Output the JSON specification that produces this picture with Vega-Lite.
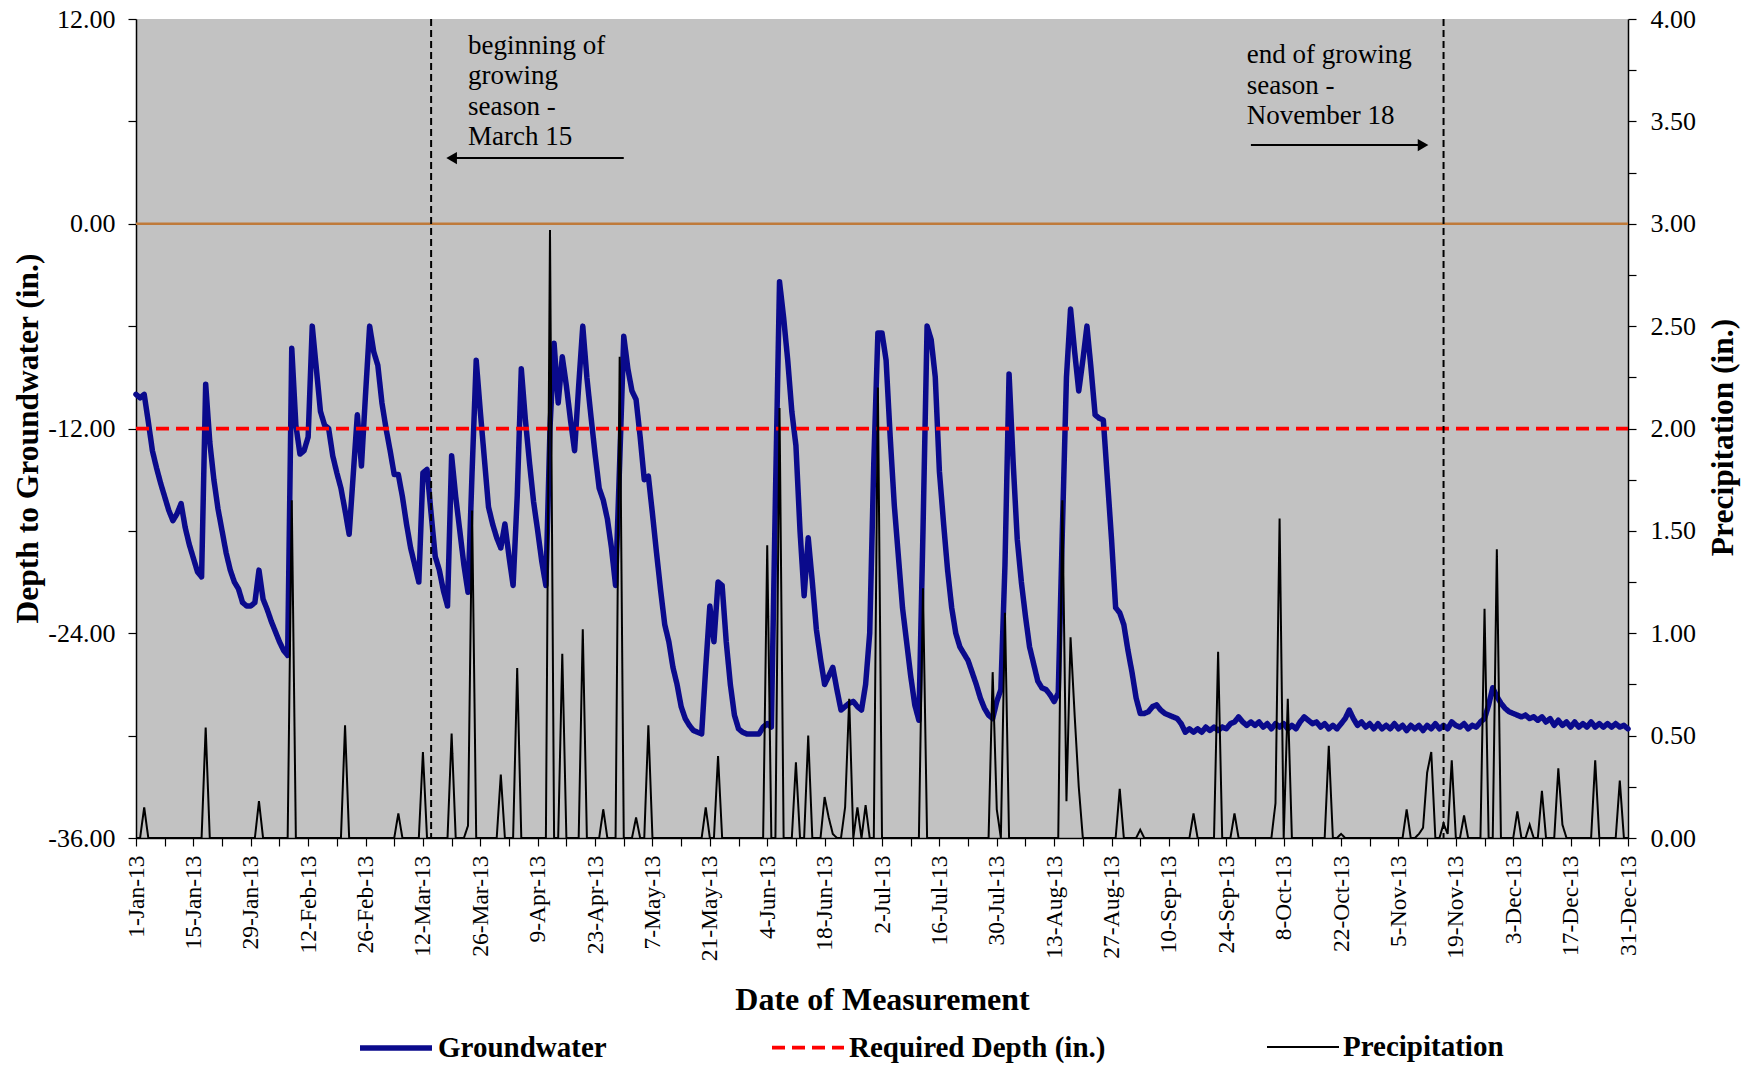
{
  "$schema": "https://vega.github.io/schema/vega-lite/v6.json",
  "width": 1492,
  "height": 819,
  "autosize": {"type": "none"},
  "padding": {"left": 136, "top": 19, "right": 118, "bottom": 227},
  "background": "white",
  "config": {
    "view": {"fill": "#C2C2C2", "stroke": null},
    "font": "Liberation Serif",
    "axis": {"labelFont": "Liberation Serif", "titleFont": "Liberation Serif", "labelColor": "black", "titleColor": "black", "domainColor": "black", "tickColor": "black", "grid": false, "domainWidth": 1.5, "tickWidth": 1.2},
    "legend": {"symbolType": "stroke", "symbolSize": 5184, "labelFont": "Liberation Serif", "labelFontSize": 29, "labelFontWeight": "bold", "labelColor": "black", "labelOffset": 3, "columnPadding": 157, "labelLimit": 600, "padding": 0}
  },
  "datasets": {
    "gw": [
      {"date":"2013-01-01","value":-10.0},{"date":"2013-01-02","value":-10.2},{"date":"2013-01-03","value":-10.0},{"date":"2013-01-04","value":-11.6},{"date":"2013-01-05","value":-13.3},{"date":"2013-01-06","value":-14.3},{"date":"2013-01-07","value":-15.2},{"date":"2013-01-08","value":-16.0},{"date":"2013-01-09","value":-16.8},{"date":"2013-01-10","value":-17.4},{"date":"2013-01-11","value":-17.0},{"date":"2013-01-12","value":-16.4},{"date":"2013-01-13","value":-17.8},{"date":"2013-01-14","value":-18.8},{"date":"2013-01-15","value":-19.6},{"date":"2013-01-16","value":-20.4},{"date":"2013-01-17","value":-20.7},{"date":"2013-01-18","value":-9.4},{"date":"2013-01-19","value":-12.8},{"date":"2013-01-20","value":-15.0},{"date":"2013-01-21","value":-16.7},{"date":"2013-01-22","value":-18.0},{"date":"2013-01-23","value":-19.3},{"date":"2013-01-24","value":-20.3},{"date":"2013-01-25","value":-21.0},{"date":"2013-01-26","value":-21.4},{"date":"2013-01-27","value":-22.2},{"date":"2013-01-28","value":-22.4},{"date":"2013-01-29","value":-22.4},{"date":"2013-01-30","value":-22.2},{"date":"2013-01-31","value":-20.3},
      {"date":"2013-02-01","value":-22.0},{"date":"2013-02-02","value":-22.6},{"date":"2013-02-03","value":-23.3},{"date":"2013-02-04","value":-23.9},{"date":"2013-02-05","value":-24.5},{"date":"2013-02-06","value":-25.0},{"date":"2013-02-07","value":-25.3},{"date":"2013-02-08","value":-7.3},{"date":"2013-02-09","value":-11.8},{"date":"2013-02-10","value":-13.5},{"date":"2013-02-11","value":-13.3},{"date":"2013-02-12","value":-12.5},{"date":"2013-02-13","value":-6.0},{"date":"2013-02-14","value":-8.5},{"date":"2013-02-15","value":-11.0},{"date":"2013-02-16","value":-11.8},{"date":"2013-02-17","value":-12.0},{"date":"2013-02-18","value":-13.6},{"date":"2013-02-19","value":-14.6},{"date":"2013-02-20","value":-15.5},{"date":"2013-02-21","value":-16.8},{"date":"2013-02-22","value":-18.2},{"date":"2013-02-23","value":-14.7},{"date":"2013-02-24","value":-11.2},{"date":"2013-02-25","value":-14.2},{"date":"2013-02-26","value":-10.0},{"date":"2013-02-27","value":-6.0},{"date":"2013-02-28","value":-7.5},
      {"date":"2013-03-01","value":-8.3},{"date":"2013-03-02","value":-10.5},{"date":"2013-03-03","value":-12.0},{"date":"2013-03-04","value":-13.3},{"date":"2013-03-05","value":-14.7},{"date":"2013-03-06","value":-14.7},{"date":"2013-03-07","value":-16.0},{"date":"2013-03-08","value":-17.6},{"date":"2013-03-09","value":-19.0},{"date":"2013-03-10","value":-20.0},{"date":"2013-03-11","value":-21.0},{"date":"2013-03-12","value":-14.6},{"date":"2013-03-13","value":-14.4},{"date":"2013-03-14","value":-17.0},{"date":"2013-03-15","value":-19.5},{"date":"2013-03-16","value":-20.3},{"date":"2013-03-17","value":-21.5},{"date":"2013-03-18","value":-22.4},{"date":"2013-03-19","value":-13.6},{"date":"2013-03-20","value":-16.0},{"date":"2013-03-21","value":-18.0},{"date":"2013-03-22","value":-20.0},{"date":"2013-03-23","value":-21.6},{"date":"2013-03-24","value":-14.5},{"date":"2013-03-25","value":-8.0},{"date":"2013-03-26","value":-11.0},{"date":"2013-03-27","value":-13.8},{"date":"2013-03-28","value":-16.6},{"date":"2013-03-29","value":-17.6},{"date":"2013-03-30","value":-18.4},{"date":"2013-03-31","value":-19.0},
      {"date":"2013-04-01","value":-17.6},{"date":"2013-04-02","value":-19.5},{"date":"2013-04-03","value":-21.2},{"date":"2013-04-04","value":-16.0},{"date":"2013-04-05","value":-8.5},{"date":"2013-04-06","value":-11.5},{"date":"2013-04-07","value":-14.0},{"date":"2013-04-08","value":-16.3},{"date":"2013-04-09","value":-18.0},{"date":"2013-04-10","value":-19.8},{"date":"2013-04-11","value":-21.2},{"date":"2013-04-12","value":-12.0},{"date":"2013-04-13","value":-7.0},{"date":"2013-04-14","value":-10.5},{"date":"2013-04-15","value":-7.8},{"date":"2013-04-16","value":-9.5},{"date":"2013-04-17","value":-11.5},{"date":"2013-04-18","value":-13.3},{"date":"2013-04-19","value":-9.5},{"date":"2013-04-20","value":-6.0},{"date":"2013-04-21","value":-9.0},{"date":"2013-04-22","value":-11.3},{"date":"2013-04-23","value":-13.5},{"date":"2013-04-24","value":-15.5},{"date":"2013-04-25","value":-16.2},{"date":"2013-04-26","value":-17.3},{"date":"2013-04-27","value":-19.0},{"date":"2013-04-28","value":-21.2},{"date":"2013-04-29","value":-14.0},{"date":"2013-04-30","value":-6.6},
      {"date":"2013-05-01","value":-8.5},{"date":"2013-05-02","value":-9.8},{"date":"2013-05-03","value":-10.3},{"date":"2013-05-04","value":-12.5},{"date":"2013-05-05","value":-15.0},{"date":"2013-05-06","value":-14.8},{"date":"2013-05-07","value":-17.0},{"date":"2013-05-08","value":-19.3},{"date":"2013-05-09","value":-21.5},{"date":"2013-05-10","value":-23.5},{"date":"2013-05-11","value":-24.5},{"date":"2013-05-12","value":-26.0},{"date":"2013-05-13","value":-27.0},{"date":"2013-05-14","value":-28.3},{"date":"2013-05-15","value":-29.0},{"date":"2013-05-16","value":-29.4},{"date":"2013-05-17","value":-29.7},{"date":"2013-05-18","value":-29.8},{"date":"2013-05-19","value":-29.9},{"date":"2013-05-20","value":-26.0},{"date":"2013-05-21","value":-22.4},{"date":"2013-05-22","value":-24.5},{"date":"2013-05-23","value":-21.0},{"date":"2013-05-24","value":-21.2},{"date":"2013-05-25","value":-24.5},{"date":"2013-05-26","value":-27.0},{"date":"2013-05-27","value":-28.8},{"date":"2013-05-28","value":-29.6},{"date":"2013-05-29","value":-29.8},{"date":"2013-05-30","value":-29.9},{"date":"2013-05-31","value":-29.9},
      {"date":"2013-06-01","value":-29.9},{"date":"2013-06-02","value":-29.9},{"date":"2013-06-03","value":-29.5},{"date":"2013-06-04","value":-29.3},{"date":"2013-06-05","value":-29.5},{"date":"2013-06-06","value":-16.0},{"date":"2013-06-07","value":-3.4},{"date":"2013-06-08","value":-5.5},{"date":"2013-06-09","value":-8.0},{"date":"2013-06-10","value":-11.0},{"date":"2013-06-11","value":-13.0},{"date":"2013-06-12","value":-18.0},{"date":"2013-06-13","value":-21.8},{"date":"2013-06-14","value":-18.4},{"date":"2013-06-15","value":-21.0},{"date":"2013-06-16","value":-23.8},{"date":"2013-06-17","value":-25.5},{"date":"2013-06-18","value":-27.0},{"date":"2013-06-19","value":-26.5},{"date":"2013-06-20","value":-26.0},{"date":"2013-06-21","value":-27.3},{"date":"2013-06-22","value":-28.5},{"date":"2013-06-23","value":-28.3},{"date":"2013-06-24","value":-28.1},{"date":"2013-06-25","value":-28.0},{"date":"2013-06-26","value":-28.3},{"date":"2013-06-27","value":-28.5},{"date":"2013-06-28","value":-27.0},{"date":"2013-06-29","value":-24.0},{"date":"2013-06-30","value":-14.0},
      {"date":"2013-07-01","value":-6.4},{"date":"2013-07-02","value":-6.4},{"date":"2013-07-03","value":-8.0},{"date":"2013-07-04","value":-12.5},{"date":"2013-07-05","value":-16.5},{"date":"2013-07-06","value":-19.5},{"date":"2013-07-07","value":-22.5},{"date":"2013-07-08","value":-24.5},{"date":"2013-07-09","value":-26.5},{"date":"2013-07-10","value":-28.2},{"date":"2013-07-11","value":-29.1},{"date":"2013-07-12","value":-18.0},{"date":"2013-07-13","value":-6.0},{"date":"2013-07-14","value":-6.8},{"date":"2013-07-15","value":-9.0},{"date":"2013-07-16","value":-14.5},{"date":"2013-07-17","value":-17.5},{"date":"2013-07-18","value":-20.3},{"date":"2013-07-19","value":-22.5},{"date":"2013-07-20","value":-24.0},{"date":"2013-07-21","value":-24.8},{"date":"2013-07-22","value":-25.2},{"date":"2013-07-23","value":-25.6},{"date":"2013-07-24","value":-26.3},{"date":"2013-07-25","value":-27.0},{"date":"2013-07-26","value":-27.8},{"date":"2013-07-27","value":-28.4},{"date":"2013-07-28","value":-28.8},{"date":"2013-07-29","value":-29.0},{"date":"2013-07-30","value":-28.0},{"date":"2013-07-31","value":-27.3},
      {"date":"2013-08-01","value":-20.0},{"date":"2013-08-02","value":-8.8},{"date":"2013-08-03","value":-14.0},{"date":"2013-08-04","value":-18.5},{"date":"2013-08-05","value":-21.0},{"date":"2013-08-06","value":-23.0},{"date":"2013-08-07","value":-24.8},{"date":"2013-08-08","value":-25.8},{"date":"2013-08-09","value":-26.8},{"date":"2013-08-10","value":-27.2},{"date":"2013-08-11","value":-27.3},{"date":"2013-08-12","value":-27.6},{"date":"2013-08-13","value":-28.0},{"date":"2013-08-14","value":-27.5},{"date":"2013-08-15","value":-18.0},{"date":"2013-08-16","value":-9.0},{"date":"2013-08-17","value":-5.0},{"date":"2013-08-18","value":-7.5},{"date":"2013-08-19","value":-9.8},{"date":"2013-08-20","value":-8.0},{"date":"2013-08-21","value":-6.0},{"date":"2013-08-22","value":-8.5},{"date":"2013-08-23","value":-11.2},{"date":"2013-08-24","value":-11.4},{"date":"2013-08-25","value":-11.5},{"date":"2013-08-26","value":-15.0},{"date":"2013-08-27","value":-18.5},{"date":"2013-08-28","value":-22.5},{"date":"2013-08-29","value":-22.8},{"date":"2013-08-30","value":-23.5},{"date":"2013-08-31","value":-25.0},
      {"date":"2013-09-01","value":-26.3},{"date":"2013-09-02","value":-27.8},{"date":"2013-09-03","value":-28.7},{"date":"2013-09-04","value":-28.7},{"date":"2013-09-05","value":-28.6},{"date":"2013-09-06","value":-28.3},{"date":"2013-09-07","value":-28.2},{"date":"2013-09-08","value":-28.5},{"date":"2013-09-09","value":-28.7},{"date":"2013-09-10","value":-28.8},{"date":"2013-09-11","value":-28.9},{"date":"2013-09-12","value":-29.0},{"date":"2013-09-13","value":-29.3},{"date":"2013-09-14","value":-29.8},{"date":"2013-09-15","value":-29.6},{"date":"2013-09-16","value":-29.8},{"date":"2013-09-17","value":-29.6},{"date":"2013-09-18","value":-29.8},{"date":"2013-09-19","value":-29.5},{"date":"2013-09-20","value":-29.7},{"date":"2013-09-21","value":-29.5},{"date":"2013-09-22","value":-29.7},{"date":"2013-09-23","value":-29.5},{"date":"2013-09-24","value":-29.6},{"date":"2013-09-25","value":-29.3},{"date":"2013-09-26","value":-29.2},{"date":"2013-09-27","value":-28.9},{"date":"2013-09-28","value":-29.2},{"date":"2013-09-29","value":-29.4},{"date":"2013-09-30","value":-29.2},
      {"date":"2013-10-01","value":-29.4},{"date":"2013-10-02","value":-29.2},{"date":"2013-10-03","value":-29.5},{"date":"2013-10-04","value":-29.3},{"date":"2013-10-05","value":-29.6},{"date":"2013-10-06","value":-29.3},{"date":"2013-10-07","value":-29.5},{"date":"2013-10-08","value":-29.3},{"date":"2013-10-09","value":-29.6},{"date":"2013-10-10","value":-29.4},{"date":"2013-10-11","value":-29.6},{"date":"2013-10-12","value":-29.2},{"date":"2013-10-13","value":-28.9},{"date":"2013-10-14","value":-29.1},{"date":"2013-10-15","value":-29.3},{"date":"2013-10-16","value":-29.2},{"date":"2013-10-17","value":-29.5},{"date":"2013-10-18","value":-29.3},{"date":"2013-10-19","value":-29.6},{"date":"2013-10-20","value":-29.4},{"date":"2013-10-21","value":-29.6},{"date":"2013-10-22","value":-29.3},{"date":"2013-10-23","value":-29.0},{"date":"2013-10-24","value":-28.5},{"date":"2013-10-25","value":-29.0},{"date":"2013-10-26","value":-29.4},{"date":"2013-10-27","value":-29.2},{"date":"2013-10-28","value":-29.5},{"date":"2013-10-29","value":-29.3},{"date":"2013-10-30","value":-29.6},{"date":"2013-10-31","value":-29.3},
      {"date":"2013-11-01","value":-29.6},{"date":"2013-11-02","value":-29.4},{"date":"2013-11-03","value":-29.6},{"date":"2013-11-04","value":-29.3},{"date":"2013-11-05","value":-29.6},{"date":"2013-11-06","value":-29.4},{"date":"2013-11-07","value":-29.7},{"date":"2013-11-08","value":-29.4},{"date":"2013-11-09","value":-29.6},{"date":"2013-11-10","value":-29.4},{"date":"2013-11-11","value":-29.7},{"date":"2013-11-12","value":-29.4},{"date":"2013-11-13","value":-29.6},{"date":"2013-11-14","value":-29.3},{"date":"2013-11-15","value":-29.6},{"date":"2013-11-16","value":-29.4},{"date":"2013-11-17","value":-29.6},{"date":"2013-11-18","value":-29.2},{"date":"2013-11-19","value":-29.4},{"date":"2013-11-20","value":-29.5},{"date":"2013-11-21","value":-29.3},{"date":"2013-11-22","value":-29.6},{"date":"2013-11-23","value":-29.4},{"date":"2013-11-24","value":-29.5},{"date":"2013-11-25","value":-29.2},{"date":"2013-11-26","value":-29.0},{"date":"2013-11-27","value":-28.2},{"date":"2013-11-28","value":-27.2},{"date":"2013-11-29","value":-27.7},{"date":"2013-11-30","value":-28.1},
      {"date":"2013-12-01","value":-28.4},{"date":"2013-12-02","value":-28.6},{"date":"2013-12-03","value":-28.7},{"date":"2013-12-04","value":-28.8},{"date":"2013-12-05","value":-28.9},{"date":"2013-12-06","value":-28.8},{"date":"2013-12-07","value":-29.0},{"date":"2013-12-08","value":-28.9},{"date":"2013-12-09","value":-29.1},{"date":"2013-12-10","value":-28.9},{"date":"2013-12-11","value":-29.2},{"date":"2013-12-12","value":-29.0},{"date":"2013-12-13","value":-29.4},{"date":"2013-12-14","value":-29.1},{"date":"2013-12-15","value":-29.4},{"date":"2013-12-16","value":-29.2},{"date":"2013-12-17","value":-29.5},{"date":"2013-12-18","value":-29.2},{"date":"2013-12-19","value":-29.5},{"date":"2013-12-20","value":-29.3},{"date":"2013-12-21","value":-29.5},{"date":"2013-12-22","value":-29.2},{"date":"2013-12-23","value":-29.5},{"date":"2013-12-24","value":-29.3},{"date":"2013-12-25","value":-29.5},{"date":"2013-12-26","value":-29.3},{"date":"2013-12-27","value":-29.5},{"date":"2013-12-28","value":-29.3},{"date":"2013-12-29","value":-29.5},{"date":"2013-12-30","value":-29.4},{"date":"2013-12-31","value":-29.6}
    ],
    "precip": [
      {"date":"2013-01-01","value":0},{"date":"2013-01-02","value":0},{"date":"2013-01-03","value":0.15},{"date":"2013-01-04","value":0},
      {"date":"2013-01-17","value":0},{"date":"2013-01-18","value":0.54},{"date":"2013-01-19","value":0},
      {"date":"2013-01-30","value":0},{"date":"2013-01-31","value":0.18},{"date":"2013-02-01","value":0},
      {"date":"2013-02-07","value":0},{"date":"2013-02-08","value":1.65},{"date":"2013-02-09","value":0},
      {"date":"2013-02-20","value":0},{"date":"2013-02-21","value":0.55},{"date":"2013-02-22","value":0},
      {"date":"2013-03-05","value":0},{"date":"2013-03-06","value":0.12},{"date":"2013-03-07","value":0},
      {"date":"2013-03-11","value":0},{"date":"2013-03-12","value":0.42},{"date":"2013-03-13","value":0},
      {"date":"2013-03-18","value":0},{"date":"2013-03-19","value":0.51},{"date":"2013-03-20","value":0},
      {"date":"2013-03-22","value":0},{"date":"2013-03-23","value":0.06},{"date":"2013-03-24","value":1.6},{"date":"2013-03-25","value":0},
      {"date":"2013-03-30","value":0},{"date":"2013-03-31","value":0.31},{"date":"2013-04-01","value":0},
      {"date":"2013-04-03","value":0},{"date":"2013-04-04","value":0.83},{"date":"2013-04-05","value":0},
      {"date":"2013-04-11","value":0},{"date":"2013-04-12","value":2.97},{"date":"2013-04-13","value":0},{"date":"2013-04-14","value":0},{"date":"2013-04-15","value":0.9},{"date":"2013-04-16","value":0},
      {"date":"2013-04-19","value":0},{"date":"2013-04-20","value":1.02},{"date":"2013-04-21","value":0},
      {"date":"2013-04-24","value":0},{"date":"2013-04-25","value":0.14},{"date":"2013-04-26","value":0},
      {"date":"2013-04-28","value":0},{"date":"2013-04-29","value":2.35},{"date":"2013-04-30","value":0},
      {"date":"2013-05-02","value":0},{"date":"2013-05-03","value":0.1},{"date":"2013-05-04","value":0},{"date":"2013-05-05","value":0},{"date":"2013-05-06","value":0.55},{"date":"2013-05-07","value":0},
      {"date":"2013-05-19","value":0},{"date":"2013-05-20","value":0.15},{"date":"2013-05-21","value":0},{"date":"2013-05-22","value":0},{"date":"2013-05-23","value":0.4},{"date":"2013-05-24","value":0},
      {"date":"2013-06-03","value":0},{"date":"2013-06-04","value":1.43},{"date":"2013-06-05","value":0},{"date":"2013-06-06","value":0},{"date":"2013-06-07","value":2.1},{"date":"2013-06-08","value":0},
      {"date":"2013-06-10","value":0},{"date":"2013-06-11","value":0.37},{"date":"2013-06-12","value":0},{"date":"2013-06-13","value":0},{"date":"2013-06-14","value":0.5},{"date":"2013-06-15","value":0},
      {"date":"2013-06-17","value":0},{"date":"2013-06-18","value":0.2},{"date":"2013-06-19","value":0.1},{"date":"2013-06-20","value":0.02},{"date":"2013-06-21","value":0},{"date":"2013-06-22","value":0},{"date":"2013-06-23","value":0.15},{"date":"2013-06-24","value":0.68},{"date":"2013-06-25","value":0},{"date":"2013-06-26","value":0.15},{"date":"2013-06-27","value":0},{"date":"2013-06-28","value":0.16},{"date":"2013-06-29","value":0},{"date":"2013-06-30","value":0},
      {"date":"2013-07-01","value":2.2},{"date":"2013-07-02","value":0},
      {"date":"2013-07-11","value":0},{"date":"2013-07-12","value":1.22},{"date":"2013-07-13","value":0},
      {"date":"2013-07-28","value":0},{"date":"2013-07-29","value":0.81},{"date":"2013-07-30","value":0.14},{"date":"2013-07-31","value":0},{"date":"2013-08-01","value":1.1},{"date":"2013-08-02","value":0},
      {"date":"2013-08-14","value":0},{"date":"2013-08-15","value":1.65},{"date":"2013-08-16","value":0.18},{"date":"2013-08-17","value":0.98},{"date":"2013-08-18","value":0.6},{"date":"2013-08-19","value":0.25},{"date":"2013-08-20","value":0},
      {"date":"2013-08-28","value":0},{"date":"2013-08-29","value":0.24},{"date":"2013-08-30","value":0},
      {"date":"2013-09-02","value":0},{"date":"2013-09-03","value":0.04},{"date":"2013-09-04","value":0},
      {"date":"2013-09-15","value":0},{"date":"2013-09-16","value":0.12},{"date":"2013-09-17","value":0},
      {"date":"2013-09-21","value":0},{"date":"2013-09-22","value":0.91},{"date":"2013-09-23","value":0},
      {"date":"2013-09-25","value":0},{"date":"2013-09-26","value":0.12},{"date":"2013-09-27","value":0},
      {"date":"2013-10-05","value":0},{"date":"2013-10-06","value":0.17},{"date":"2013-10-07","value":1.56},{"date":"2013-10-08","value":0},{"date":"2013-10-09","value":0.68},{"date":"2013-10-10","value":0},
      {"date":"2013-10-18","value":0},{"date":"2013-10-19","value":0.45},{"date":"2013-10-20","value":0},{"date":"2013-10-21","value":0},{"date":"2013-10-22","value":0.02},{"date":"2013-10-23","value":0},
      {"date":"2013-11-06","value":0},{"date":"2013-11-07","value":0.14},{"date":"2013-11-08","value":0},{"date":"2013-11-09","value":0},{"date":"2013-11-10","value":0.02},{"date":"2013-11-11","value":0.05},{"date":"2013-11-12","value":0.32},{"date":"2013-11-13","value":0.42},{"date":"2013-11-14","value":0},{"date":"2013-11-15","value":0},{"date":"2013-11-16","value":0.07},{"date":"2013-11-17","value":0.02},{"date":"2013-11-18","value":0.38},{"date":"2013-11-19","value":0},{"date":"2013-11-20","value":0},{"date":"2013-11-21","value":0.11},{"date":"2013-11-22","value":0},
      {"date":"2013-11-25","value":0},{"date":"2013-11-26","value":1.12},{"date":"2013-11-27","value":0},{"date":"2013-11-28","value":0},{"date":"2013-11-29","value":1.41},{"date":"2013-11-30","value":0},
      {"date":"2013-12-03","value":0},{"date":"2013-12-04","value":0.13},{"date":"2013-12-05","value":0},{"date":"2013-12-06","value":0},{"date":"2013-12-07","value":0.065},{"date":"2013-12-08","value":0},{"date":"2013-12-09","value":0},{"date":"2013-12-10","value":0.23},{"date":"2013-12-11","value":0},
      {"date":"2013-12-13","value":0},{"date":"2013-12-14","value":0.34},{"date":"2013-12-15","value":0.065},{"date":"2013-12-16","value":0},
      {"date":"2013-12-22","value":0},{"date":"2013-12-23","value":0.38},{"date":"2013-12-24","value":0},
      {"date":"2013-12-28","value":0},{"date":"2013-12-29","value":0.28},{"date":"2013-12-30","value":0},{"date":"2013-12-31","value":0}
    ],
    "req": [{"date":"2013-01-01","value":-12},{"date":"2013-12-31","value":-12}],
    "season": [{"date":"2013-03-14"},{"date":"2013-11-16"}],
    "arrows": [
      {"start":"2013-03-19","end":"2013-04-30","head":"2013-03-19","value":3.85,"dir":"left"},
      {"start":"2013-09-30","end":"2013-11-11","head":"2013-11-11","value":4.61,"dir":"right"}
    ],
    "notes": [
      {"date":"2013-03-23","value":10.44,"text":"beginning of"},
      {"date":"2013-03-23","value":8.68,"text":"growing"},
      {"date":"2013-03-23","value":6.85,"text":"season -"},
      {"date":"2013-03-23","value":5.08,"text":"March 15"},
      {"date":"2013-09-29","value":9.91,"text":"end of growing"},
      {"date":"2013-09-29","value":8.09,"text":"season -"},
      {"date":"2013-09-29","value":6.33,"text":"November 18"}
    ]
  },
  "layer": [
    {
      "data": {"values": [{}]},
      "mark": {"type": "rule", "color": "#BF7A3A", "strokeWidth": 2.5},
      "encoding": {
        "y": {"datum": 0, "type": "quantitative", "scale": {"domain": [-36, 12], "nice": false, "zero": false}, "axis": null}
      }
    },
    {
      "data": {"name": "gw"},
      "mark": {"type": "line", "strokeJoin": "round", "strokeCap": "round"},
      "encoding": {
        "x": {
          "field": "date", "type": "temporal",
          "scale": {"type": "utc", "domain": [{"year": 2013, "month": 1, "date": 1, "utc": true}, {"year": 2013, "month": 12, "date": 31, "utc": true}], "nice": false},
          "axis": {
            "title": "Date of Measurement",
            "values": [
              {"year":2013,"month":1,"date":1,"utc":true},{"year":2013,"month":1,"date":8,"utc":true},{"year":2013,"month":1,"date":15,"utc":true},{"year":2013,"month":1,"date":22,"utc":true},{"year":2013,"month":1,"date":29,"utc":true},
              {"year":2013,"month":2,"date":5,"utc":true},{"year":2013,"month":2,"date":12,"utc":true},{"year":2013,"month":2,"date":19,"utc":true},{"year":2013,"month":2,"date":26,"utc":true},
              {"year":2013,"month":3,"date":5,"utc":true},{"year":2013,"month":3,"date":12,"utc":true},{"year":2013,"month":3,"date":19,"utc":true},{"year":2013,"month":3,"date":26,"utc":true},
              {"year":2013,"month":4,"date":2,"utc":true},{"year":2013,"month":4,"date":9,"utc":true},{"year":2013,"month":4,"date":16,"utc":true},{"year":2013,"month":4,"date":23,"utc":true},{"year":2013,"month":4,"date":30,"utc":true},
              {"year":2013,"month":5,"date":7,"utc":true},{"year":2013,"month":5,"date":14,"utc":true},{"year":2013,"month":5,"date":21,"utc":true},{"year":2013,"month":5,"date":28,"utc":true},
              {"year":2013,"month":6,"date":4,"utc":true},{"year":2013,"month":6,"date":11,"utc":true},{"year":2013,"month":6,"date":18,"utc":true},{"year":2013,"month":6,"date":25,"utc":true},
              {"year":2013,"month":7,"date":2,"utc":true},{"year":2013,"month":7,"date":9,"utc":true},{"year":2013,"month":7,"date":16,"utc":true},{"year":2013,"month":7,"date":23,"utc":true},{"year":2013,"month":7,"date":30,"utc":true},
              {"year":2013,"month":8,"date":6,"utc":true},{"year":2013,"month":8,"date":13,"utc":true},{"year":2013,"month":8,"date":20,"utc":true},{"year":2013,"month":8,"date":27,"utc":true},
              {"year":2013,"month":9,"date":3,"utc":true},{"year":2013,"month":9,"date":10,"utc":true},{"year":2013,"month":9,"date":17,"utc":true},{"year":2013,"month":9,"date":24,"utc":true},
              {"year":2013,"month":10,"date":1,"utc":true},{"year":2013,"month":10,"date":8,"utc":true},{"year":2013,"month":10,"date":15,"utc":true},{"year":2013,"month":10,"date":22,"utc":true},{"year":2013,"month":10,"date":29,"utc":true},
              {"year":2013,"month":11,"date":5,"utc":true},{"year":2013,"month":11,"date":12,"utc":true},{"year":2013,"month":11,"date":19,"utc":true},{"year":2013,"month":11,"date":26,"utc":true},
              {"year":2013,"month":12,"date":3,"utc":true},{"year":2013,"month":12,"date":10,"utc":true},{"year":2013,"month":12,"date":17,"utc":true},{"year":2013,"month":12,"date":24,"utc":true},{"year":2013,"month":12,"date":31,"utc":true}
            ],
            "labelExpr": "round((datum.value - utc(2013,0,1)) / 604800000) % 2 === 0 ? utcFormat(datum.value, '%-d-%b-%y') : ''",
            "labelAngle": -90,
            "labelFontSize": 23.5,
            "labelPadding": 9,
            "tickSize": 8,
            "labelOverlap": false,
            "labelFlush": false,
            "labelBound": false,
            "titleFontSize": 32,
            "titleFontWeight": "bold",
            "titlePadding": 24
          }
        },
        "y": {
          "field": "value", "type": "quantitative",
          "scale": {"domain": [-36, 12], "nice": false, "zero": false},
          "axis": {
            "title": "Depth to Groundwater (in.)",
            "values": [-36, -30, -24, -18, -12, -6, 0, 6, 12],
            "labelExpr": "datum.value % 12 === 0 ? (datum.value < 0 ? '-' : '') + format(abs(datum.value), '.2f') : ''",
            "labelFontSize": 26,
            "labelPadding": 13,
            "tickSize": 8,
            "labelOverlap": false,
            "labelFlush": false,
            "titleFontSize": 31.5,
            "titleFontWeight": "bold",
            "titlePadding": 3,
            "titleY": 419
          }
        },
        "color": {"datum": "Groundwater", "type": "nominal", "scale": {"domain": ["Groundwater", "Required Depth (in.)", "Precipitation"], "range": ["#0A0A8C", "#FF0000", "#000000"]}, "legend": {"title": null, "orient": "none", "legendX": 221, "legendY": 990, "direction": "horizontal"}},
        "strokeDash": {"datum": "Groundwater", "type": "nominal", "scale": {"domain": ["Groundwater", "Required Depth (in.)", "Precipitation"], "range": [[1, 0], [13, 7], [1, 0]]}, "legend": {"title": null, "orient": "none", "legendX": 221, "legendY": 990, "direction": "horizontal"}},
        "strokeWidth": {"datum": "Groundwater", "type": "nominal", "scale": {"type": "point", "padding": 0, "domain": ["Groundwater", "Required Depth (in.)", "Precipitation"], "range": [5.5, 2]}, "legend": {"title": null, "orient": "none", "legendX": 221, "legendY": 990, "direction": "horizontal"}}
      }
    },
    {
      "data": {"name": "req"},
      "mark": {"type": "line"},
      "encoding": {
        "x": {"field": "date", "type": "temporal", "scale": {"type": "utc", "domain": [{"year": 2013, "month": 1, "date": 1, "utc": true}, {"year": 2013, "month": 12, "date": 31, "utc": true}], "nice": false}, "axis": null},
        "y": {"field": "value", "type": "quantitative", "scale": {"domain": [-36, 12], "nice": false, "zero": false}, "axis": null},
        "color": {"datum": "Required Depth (in.)", "type": "nominal", "scale": {"domain": ["Groundwater", "Required Depth (in.)", "Precipitation"], "range": ["#0A0A8C", "#FF0000", "#000000"]}, "legend": {"title": null, "orient": "none", "legendX": 221, "legendY": 990, "direction": "horizontal"}},
        "strokeDash": {"datum": "Required Depth (in.)", "type": "nominal", "scale": {"domain": ["Groundwater", "Required Depth (in.)", "Precipitation"], "range": [[1, 0], [13, 7], [1, 0]]}, "legend": {"title": null, "orient": "none", "legendX": 221, "legendY": 990, "direction": "horizontal"}},
        "strokeWidth": {"datum": "Required Depth (in.)", "type": "nominal", "scale": {"type": "point", "padding": 0, "domain": ["Groundwater", "Required Depth (in.)", "Precipitation"], "range": [5.5, 2]}, "legend": {"title": null, "orient": "none", "legendX": 221, "legendY": 990, "direction": "horizontal"}}
      }
    },
    {
      "data": {"name": "season"},
      "mark": {"type": "rule", "color": "black", "strokeWidth": 2, "strokeDash": [7, 4]},
      "encoding": {
        "x": {"field": "date", "type": "temporal", "scale": {"type": "utc", "domain": [{"year": 2013, "month": 1, "date": 1, "utc": true}, {"year": 2013, "month": 12, "date": 31, "utc": true}], "nice": false}, "axis": null}
      }
    },
    {
      "data": {"name": "arrows"},
      "mark": {"type": "rule", "color": "black", "strokeWidth": 2},
      "encoding": {
        "x": {"field": "start", "type": "temporal", "scale": {"type": "utc", "domain": [{"year": 2013, "month": 1, "date": 1, "utc": true}, {"year": 2013, "month": 12, "date": 31, "utc": true}], "nice": false}, "axis": null},
        "x2": {"field": "end"},
        "y": {"field": "value", "type": "quantitative", "scale": {"domain": [-36, 12], "nice": false, "zero": false}, "axis": null}
      }
    },
    {
      "data": {"name": "arrows"},
      "mark": {"type": "point", "filled": true, "color": "black", "opacity": 1, "size": 150},
      "encoding": {
        "x": {"field": "head", "type": "temporal", "scale": {"type": "utc", "domain": [{"year": 2013, "month": 1, "date": 1, "utc": true}, {"year": 2013, "month": 12, "date": 31, "utc": true}], "nice": false}, "axis": null},
        "y": {"field": "value", "type": "quantitative", "scale": {"domain": [-36, 12], "nice": false, "zero": false}, "axis": null},
        "shape": {"field": "dir", "type": "nominal", "scale": {"domain": ["left", "right"], "range": ["triangle-left", "triangle-right"]}, "legend": null}
      }
    },
    {
      "data": {"name": "notes"},
      "mark": {"type": "text", "align": "left", "baseline": "middle", "font": "Liberation Serif", "fontSize": 27, "color": "black"},
      "encoding": {
        "x": {"field": "date", "type": "temporal", "scale": {"type": "utc", "domain": [{"year": 2013, "month": 1, "date": 1, "utc": true}, {"year": 2013, "month": 12, "date": 31, "utc": true}], "nice": false}, "axis": null},
        "y": {"field": "value", "type": "quantitative", "scale": {"domain": [-36, 12], "nice": false, "zero": false}, "axis": null},
        "text": {"field": "text"}
      }
    },
    {
      "data": {"name": "precip"},
      "mark": {"type": "line", "strokeJoin": "miter"},
      "encoding": {
        "x": {"field": "date", "type": "temporal", "scale": {"type": "utc", "domain": [{"year": 2013, "month": 1, "date": 1, "utc": true}, {"year": 2013, "month": 12, "date": 31, "utc": true}], "nice": false}, "axis": null},
        "y": {
          "field": "value", "type": "quantitative",
          "scale": {"domain": [0, 4], "nice": false, "zero": true},
          "axis": {
            "orient": "right",
            "title": "Precipitation (in.)",
            "values": [0, 0.25, 0.5, 0.75, 1, 1.25, 1.5, 1.75, 2, 2.25, 2.5, 2.75, 3, 3.25, 3.5, 3.75, 4],
            "labelExpr": "datum.value % 0.5 === 0 ? format(datum.value, '.2f') : ''",
            "labelFontSize": 26,
            "labelPadding": 14,
            "tickSize": 8,
            "labelOverlap": false,
            "labelFlush": false,
            "titleFontSize": 31.5,
            "titleFontWeight": "bold",
            "titleAngle": -90,
            "titleBaseline": "top",
            "titlePadding": 12,
            "titleY": 418
          }
        },
        "color": {"datum": "Precipitation", "type": "nominal", "scale": {"domain": ["Groundwater", "Required Depth (in.)", "Precipitation"], "range": ["#0A0A8C", "#FF0000", "#000000"]}, "legend": {"title": null, "orient": "none", "legendX": 221, "legendY": 990, "direction": "horizontal"}},
        "strokeDash": {"datum": "Precipitation", "type": "nominal", "scale": {"domain": ["Groundwater", "Required Depth (in.)", "Precipitation"], "range": [[1, 0], [13, 7], [1, 0]]}, "legend": {"title": null, "orient": "none", "legendX": 221, "legendY": 990, "direction": "horizontal"}},
        "strokeWidth": {"datum": "Precipitation", "type": "nominal", "scale": {"type": "point", "padding": 0, "domain": ["Groundwater", "Required Depth (in.)", "Precipitation"], "range": [5.5, 2]}, "legend": {"title": null, "orient": "none", "legendX": 221, "legendY": 990, "direction": "horizontal"}}
      }
    }
  ],
  "resolve": {"scale": {"x": "independent", "y": "independent"}}
}
